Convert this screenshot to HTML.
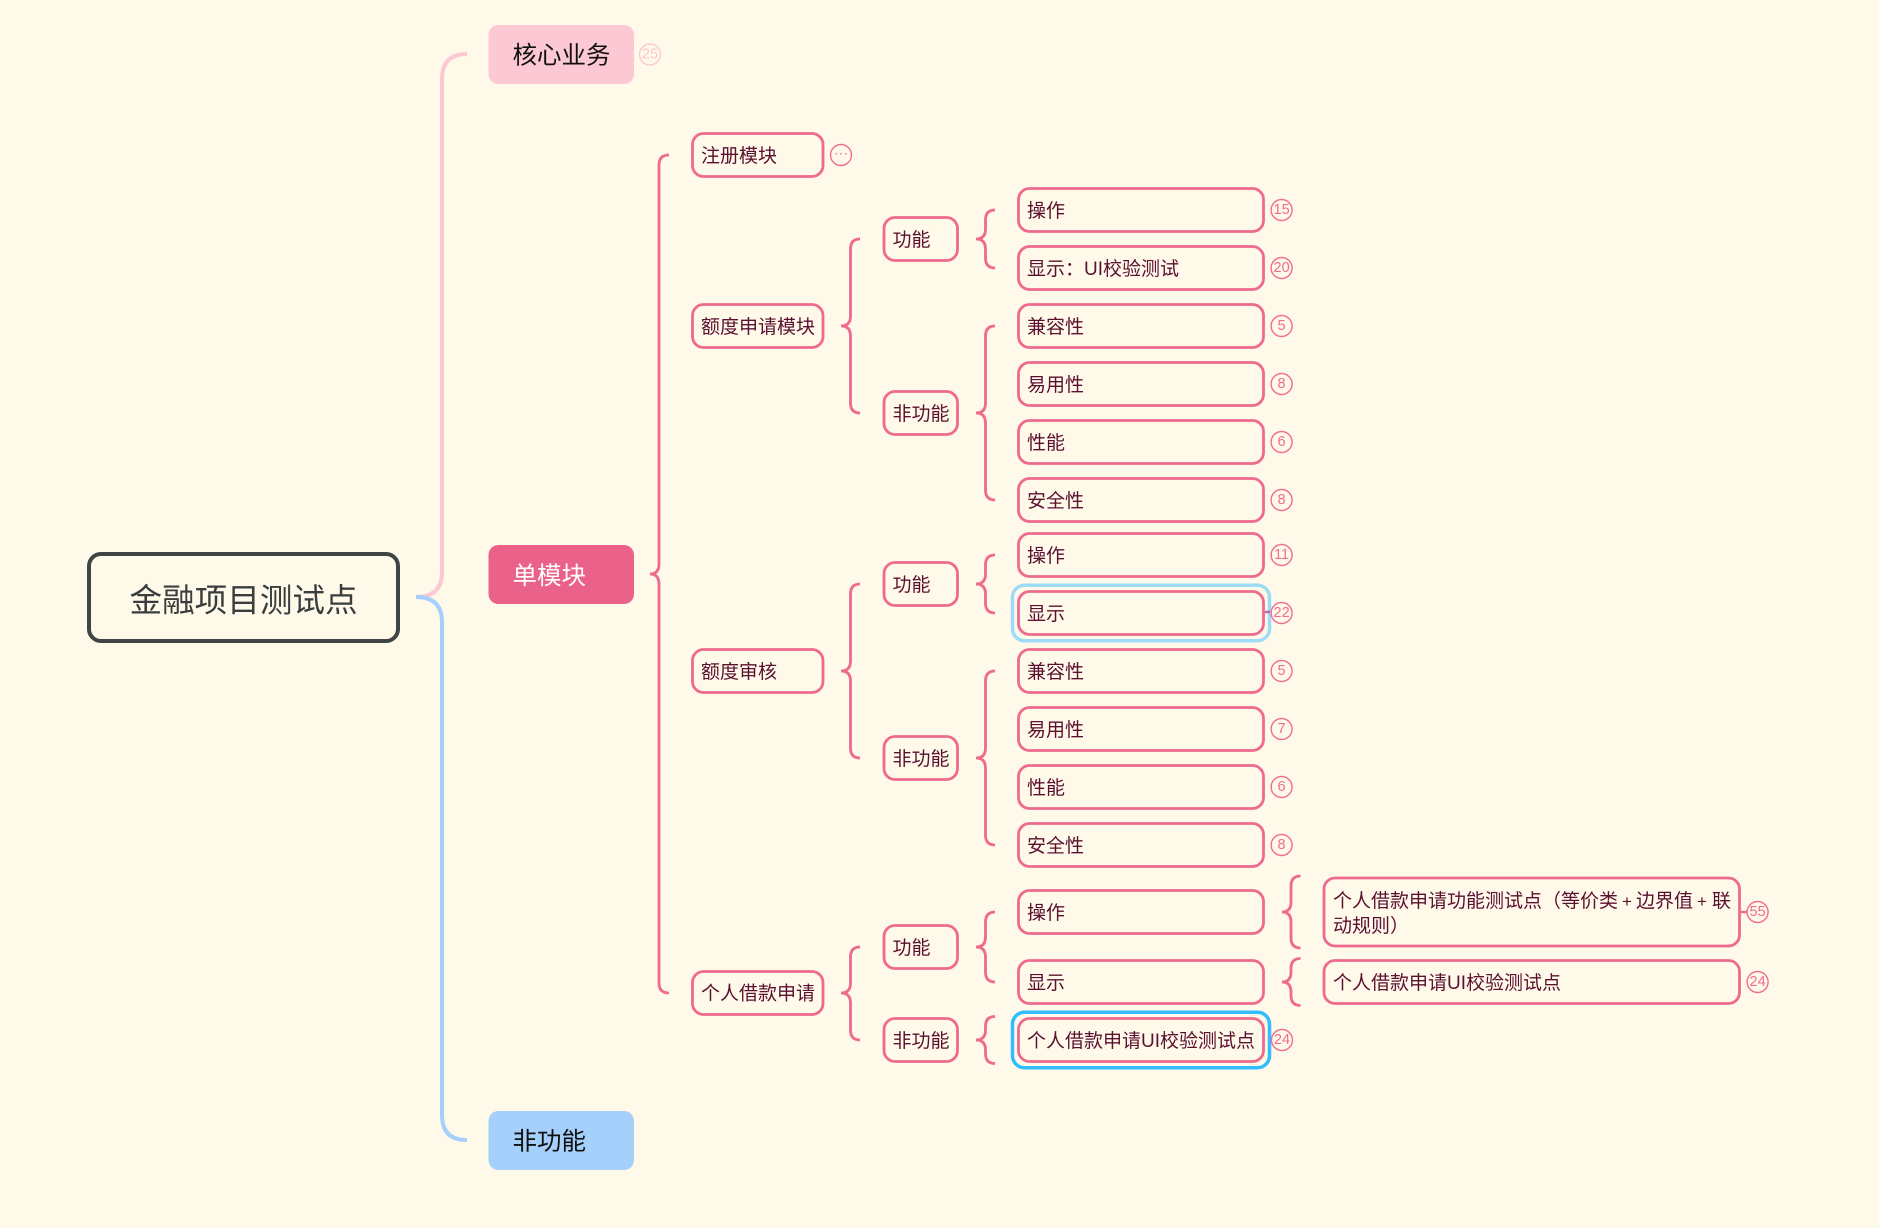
<!DOCTYPE html>
<html><head><meta charset="utf-8"><style>
html,body{margin:0;padding:0;background:#fff9e9;width:1879px;height:1228px;overflow:hidden}
svg{display:block}
text{font-family:"Liberation Sans","Noto Sans CJK SC",sans-serif;dominant-baseline:central}
.n{fill:none;stroke:#ee6a8e;stroke-width:2.8}
.b{fill:none;stroke:#ee6a8e;stroke-width:2.8}
.t{font-size:19px;fill:#5a1030}
.c{fill:none;stroke:#ef6d92;stroke-width:1.4}
.d{font-size:14.5px;fill:#ef6d92;text-anchor:middle}
</style></head><body>
<svg width="1879" height="1228" viewBox="0 0 1879 1228" xmlns="http://www.w3.org/2000/svg">
<rect width="1879" height="1228" fill="#fff9e9"/>
<path d="M467 54Q442 54 442 79L442 572Q442 597 416 597" fill="none" stroke="#fcc8d3" stroke-width="4"/>
<path d="M416 597Q442 597 442 622L442 1115Q442 1140 467 1140" fill="none" stroke="#a5d0fb" stroke-width="4"/>
<rect x="89" y="554" width="309" height="87" rx="12" fill="none" stroke="#3f4444" stroke-width="4"/>
<text x="129.5" y="600" font-size="32.6" fill="#3a3d3d">金融项目测试点</text>
<rect x="488.5" y="25" width="145.5" height="59" rx="10" fill="#fcc8d3"/>
<text x="512.5" y="56" font-size="24.5" fill="#111">核心业务</text>
<circle cx="650" cy="54.5" r="10.5" fill="none" stroke="#fcc8d3" stroke-width="1.4"/>
<text x="650" y="54.5" font-size="14.5" fill="#fcc8d3" text-anchor="middle">25</text>
<rect x="488.5" y="545" width="145.5" height="59" rx="10" fill="#ea6189"/>
<text x="512.5" y="576.5" font-size="24.5" fill="#fff">单模块</text>
<rect x="488.5" y="1111" width="145.5" height="59" rx="10" fill="#a5d0fb"/>
<text x="512.5" y="1142" font-size="24.5" fill="#111">非功能</text>

<path class="b" d="M669 155Q659 155 659 165L659 564Q659 574 650 574Q659 574 659 584L659 983Q659 993 669 993"/>
<path class="b" d="M860 239Q850.5 239 850.5 249L850.5 316Q850.5 326 841 326Q850.5 326 850.5 336L850.5 403Q850.5 413 860 413"/>
<path class="b" d="M995 210Q985.5 210 985.5 220L985.5 229Q985.5 239 976 239Q985.5 239 985.5 249L985.5 258Q985.5 268 995 268"/>
<path class="b" d="M995 326Q985.5 326 985.5 336L985.5 403Q985.5 413 976 413Q985.5 413 985.5 423L985.5 490Q985.5 500 995 500"/>
<path class="b" d="M860 584Q850.5 584 850.5 594L850.5 661Q850.5 671 841 671Q850.5 671 850.5 681L850.5 748Q850.5 758 860 758"/>
<path class="b" d="M995 555Q985.5 555 985.5 565L985.5 574Q985.5 584 976 584Q985.5 584 985.5 594L985.5 603Q985.5 613 995 613"/>
<path class="b" d="M995 671Q985.5 671 985.5 681L985.5 748Q985.5 758 976 758Q985.5 758 985.5 768L985.5 835Q985.5 845 995 845"/>
<path class="b" d="M860 947Q850.5 947 850.5 957L850.5 983Q850.5 993 841 993Q850.5 993 850.5 1003L850.5 1030Q850.5 1040 860 1040"/>
<path class="b" d="M995 912Q985.5 912 985.5 922L985.5 937Q985.5 947 976 947Q985.5 947 985.5 957L985.5 972Q985.5 982 995 982"/>
<path class="b" d="M995 1016.5Q985.5 1016.5 985.5 1026.5L985.5 1030Q985.5 1040 976 1040Q985.5 1040 985.5 1050L985.5 1053.5Q985.5 1063.5 995 1063.5"/>
<path class="b" d="M1300.5 876Q1291 876 1291 886L1291 902Q1291 912 1282 912Q1291 912 1291 922L1291 938Q1291 948 1300.5 948"/>
<path class="b" d="M1300.5 958.5Q1291 958.5 1291 968.5L1291 972Q1291 982 1282 982Q1291 982 1291 992L1291 995.5Q1291 1005.5 1300.5 1005.5"/>

<rect x="1012.5" y="585.2" width="257" height="55.5" rx="12" fill="none" stroke="#9edbf7" stroke-width="3.5"/>
<rect x="1012.5" y="1012.2" width="257" height="55.5" rx="12" fill="none" stroke="#33bdfd" stroke-width="3.5"/>
<path d="M1265 612L1270 612" stroke="#b070b0" stroke-width="2.5"/>
<path d="M1741 912L1747 912" stroke="#ee6a8e" stroke-width="2.5"/>

<rect class="n" x="692.5" y="133.5" width="130.5" height="43" rx="11"/><text class="t" x="701" y="156.5">注册模块</text>
<rect class="n" x="692.5" y="304.5" width="130.5" height="43" rx="11"/><text class="t" x="701" y="327.5">额度申请模块</text>
<rect class="n" x="692.5" y="649.5" width="130.5" height="43" rx="11"/><text class="t" x="701" y="672.5">额度审核</text>
<rect class="n" x="692.5" y="971.5" width="130.5" height="43" rx="11"/><text class="t" x="701" y="994">个人借款申请</text>

<rect class="n" x="884" y="217.5" width="73.5" height="43" rx="11"/><text class="t" x="892.5" y="240.5">功能</text>
<rect class="n" x="884" y="391.5" width="73.5" height="43" rx="11"/><text class="t" x="892.5" y="414.5">非功能</text>
<rect class="n" x="884" y="562.5" width="73.5" height="43" rx="11"/><text class="t" x="892.5" y="585.5">功能</text>
<rect class="n" x="884" y="736.5" width="73.5" height="43" rx="11"/><text class="t" x="892.5" y="759.5">非功能</text>
<rect class="n" x="884" y="925.5" width="73.5" height="43" rx="11"/><text class="t" x="892.5" y="948.5">功能</text>
<rect class="n" x="884" y="1018.5" width="73.5" height="43" rx="11"/><text class="t" x="892.5" y="1041.5">非功能</text>

<rect class="n" x="1018.5" y="188.5" width="245" height="43" rx="11"/><text class="t" x="1027" y="211.5">操作</text>
<rect class="n" x="1018.5" y="246.5" width="245" height="43" rx="11"/><text class="t" x="1027" y="269.5">显示：UI校验测试</text>
<rect class="n" x="1018.5" y="304.5" width="245" height="43" rx="11"/><text class="t" x="1027" y="327.5">兼容性</text>
<rect class="n" x="1018.5" y="362.5" width="245" height="43" rx="11"/><text class="t" x="1027" y="385.5">易用性</text>
<rect class="n" x="1018.5" y="420.5" width="245" height="43" rx="11"/><text class="t" x="1027" y="443.5">性能</text>
<rect class="n" x="1018.5" y="478.5" width="245" height="43" rx="11"/><text class="t" x="1027" y="501.5">安全性</text>
<rect class="n" x="1018.5" y="533.5" width="245" height="43" rx="11"/><text class="t" x="1027" y="556.5">操作</text>
<rect class="n" x="1018.5" y="591.5" width="245" height="43" rx="11"/><text class="t" x="1027" y="614.5">显示</text>
<rect class="n" x="1018.5" y="649.5" width="245" height="43" rx="11"/><text class="t" x="1027" y="672.5">兼容性</text>
<rect class="n" x="1018.5" y="707.5" width="245" height="43" rx="11"/><text class="t" x="1027" y="730.5">易用性</text>
<rect class="n" x="1018.5" y="765.5" width="245" height="43" rx="11"/><text class="t" x="1027" y="788.5">性能</text>
<rect class="n" x="1018.5" y="823.5" width="245" height="43" rx="11"/><text class="t" x="1027" y="846.5">安全性</text>
<rect class="n" x="1018.5" y="890.5" width="245" height="43" rx="11"/><text class="t" x="1027" y="913.5">操作</text>
<rect class="n" x="1018.5" y="960.5" width="245" height="43" rx="11"/><text class="t" x="1027" y="983.5">显示</text>
<rect class="n" x="1018.5" y="1018.5" width="245" height="43" rx="11"/><text class="t" x="1027" y="1041.5">个人借款申请UI校验测试点</text>

<rect class="n" x="1324" y="878" width="415.5" height="68" rx="11"/>
<text class="t" y="901"><tspan x="1333">个人借款申请功能测试点（等价类</tspan><tspan x="1622" font-size="17">+</tspan><tspan x="1636">边界值</tspan><tspan x="1697" font-size="17">+</tspan><tspan x="1712">联</tspan></text>
<text class="t" x="1333" y="926.5">动规则）</text>
<rect class="n" x="1324" y="960.5" width="415.5" height="43" rx="11"/><text class="t" x="1333" y="983.5">个人借款申请UI校验测试点</text>

<circle class="c" cx="841" cy="155" r="10.5"/><text class="d" x="841" y="153.5">···</text>
<circle class="c" cx="1281.6" cy="210" r="10.5"/><text class="d" x="1281.6" y="210">15</text>
<circle class="c" cx="1281.6" cy="268" r="10.5"/><text class="d" x="1281.6" y="268">20</text>
<circle class="c" cx="1281.6" cy="326" r="10.5"/><text class="d" x="1281.6" y="326">5</text>
<circle class="c" cx="1281.6" cy="384" r="10.5"/><text class="d" x="1281.6" y="384">8</text>
<circle class="c" cx="1281.6" cy="442" r="10.5"/><text class="d" x="1281.6" y="442">6</text>
<circle class="c" cx="1281.6" cy="500" r="10.5"/><text class="d" x="1281.6" y="500">8</text>
<circle class="c" cx="1281.6" cy="555" r="10.5"/><text class="d" x="1281.6" y="555">11</text>
<circle class="c" cx="1281.6" cy="613" r="10.5"/><text class="d" x="1281.6" y="613">22</text>
<circle class="c" cx="1281.6" cy="671" r="10.5"/><text class="d" x="1281.6" y="671">5</text>
<circle class="c" cx="1281.6" cy="729" r="10.5"/><text class="d" x="1281.6" y="729">7</text>
<circle class="c" cx="1281.6" cy="787" r="10.5"/><text class="d" x="1281.6" y="787">6</text>
<circle class="c" cx="1281.6" cy="845" r="10.5"/><text class="d" x="1281.6" y="845">8</text>
<circle class="c" cx="1282" cy="1040" r="10.5"/><text class="d" x="1282" y="1040">24</text>
<circle class="c" cx="1757.6" cy="912" r="10.5"/><text class="d" x="1757.6" y="912">55</text>
<circle class="c" cx="1757.6" cy="982" r="10.5"/><text class="d" x="1757.6" y="982">24</text>
</svg>
</body></html>
